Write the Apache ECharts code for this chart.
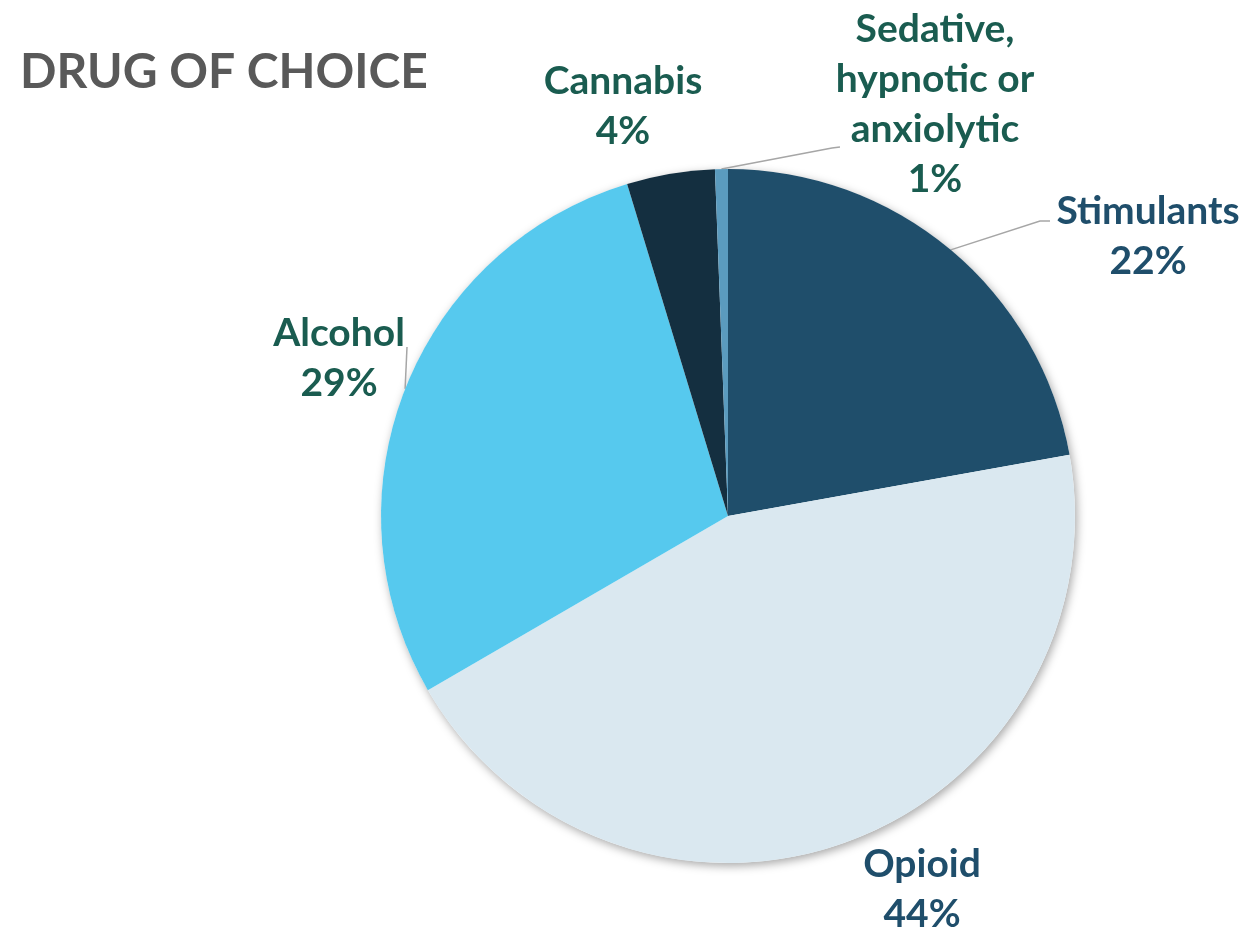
<!DOCTYPE html>
<html>
<head>
<meta charset="utf-8">
<script src="https://cdn.jsdelivr.net/npm/echarts@6/dist/echarts.min.js"></script>
<style>
html,body{margin:0;padding:0;background:#fff;}
#chart{width:1247px;height:933px;}
</style>
</head>
<body>
<div id="chart"></div>
<script>
// ---- data ----
var categories = ['Stimulants', 'Opioid', 'Alcohol', 'Cannabis', 'Sedative,\nhypnotic or\nanxiolytic'];
var shares = [22.2, 44.5, 28.7, 4.1, 0.6];
var sliceColors = ['#1F4E6B', '#DAE8F0', '#56C9EE', '#142F40', '#5B9BBE'];
var labelColors = ['#1F4E6B', '#1F4E6B', '#1A5C50', '#1A5C50', '#1A5C50'];
var title = 'DRUG OF CHOICE';

// label placement (layout only)
var labelPos = [
  {x: 1148, y: 236, line: [[1040, 221], [1050, 221]]},
  {x: 922, y: 889, line: null},
  {x: 339, y: 358, line: [[407, 347]]},
  {x: 623, y: 106, line: null},
  {x: 935, y: 104, line: [[832, 148], [840, 147]]}
];

var chart = echarts.init(document.getElementById('chart'));
var FONT = 'Lato, "Open Sans", sans-serif';

var data = categories.map(function (name, i) {
  return {
    name: name,
    value: shares[i],
    itemStyle: {color: sliceColors[i]},
    label: {color: labelColors[i]},
    labelLine: {show: !!labelPos[i].line}
  };
});

chart.setOption({
  animation: false,
  title: {
    text: title,
    left: 15,
    top: 44,
    textStyle: {fontFamily: FONT, fontWeight: 'bold', fontSize: 48, color: '#595959', lineHeight: 48}
  },
  series: [
    {
      type: 'pie',
      silent: true,
      center: ['728px', '516px'],
      radius: 347,
      z: 1,
      label: {show: false},
      labelLine: {show: false},
      itemStyle: {color: '#ffffff', shadowBlur: 10, shadowColor: 'rgba(0,0,0,0.35)', shadowOffsetX: 2, shadowOffsetY: 3},
      data: [{value: 1, name: ''}]
    },
    {
      type: 'pie',
      center: ['728px', '516px'],
      radius: 347,
      startAngle: 90,
      clockwise: true,
      z: 2,
      avoidLabelOverlap: false,
      itemStyle: {borderWidth: 0},
      emphasis: {disabled: true},
      label: {
        show: true,
        position: 'outside',
        fontFamily: FONT,
        fontWeight: 'bold',
        fontSize: 39,
        lineHeight: 50,
        align: 'center',
        formatter: function (p) {
          return p.name + '\n' + Math.round(p.percent) + '%';
        }
      },
      labelLine: {
        show: true,
        lineStyle: {color: '#A6A6A6', width: 1.5}
      },
      labelLayout: function (params) {
        var i = params.dataIndex;
        var lp = labelPos[i];
        var out = {x: lp.x, y: lp.y, align: 'center', verticalAlign: 'middle'};
        if (lp.line && params.labelLinePoints) {
          out.labelLinePoints = [params.labelLinePoints[0]].concat(lp.line);
        }
        return out;
      },
      data: data
    }
  ]
});
</script>
</body>
</html>
